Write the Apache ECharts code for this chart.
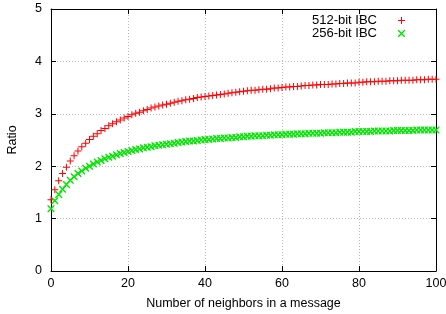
<!DOCTYPE html>
<html><head><meta charset="utf-8">
<script src="https://cdn.jsdelivr.net/npm/echarts@6/dist/echarts.min.js"></script>
<style>html,body{margin:0;padding:0;background:#fff}#c{width:446px;height:314px}</style>
</head><body><div id="c"></div>
<script>
const seriesNames = ['512-bit IBC', '256-bit IBC'];
const xTicks = [0, 20, 40, 60, 80, 100];
const yTicks = [0, 1, 2, 3, 4, 5];
const neighbors = [0,1,2,3,4,5,6,7,8,9,10,11,12,13,14,15,16,17,18,19,20,21,22,23,24,25,26,27,28,29,30,31,32,33,34,35,36,37,38,39,40,41,42,43,44,45,46,47,48,49,50,51,52,53,54,55,56,57,58,59,60,61,62,63,64,65,66,67,68,69,70,71,72,73,74,75,76,77,78,79,80,81,82,83,84,85,86,87,88,89,90,91,92,93,94,95,96,97,98,99,100];
const ratio512 = [1.36,1.55,1.72,1.86,1.98,2.10,2.20,2.29,2.37,2.44,2.51,2.57,2.62,2.68,2.72,2.77,2.81,2.85,2.88,2.92,2.95,2.98,3.01,3.03,3.06,3.08,3.11,3.13,3.15,3.17,3.18,3.20,3.22,3.24,3.25,3.27,3.28,3.29,3.31,3.32,3.33,3.34,3.35,3.36,3.37,3.38,3.39,3.40,3.41,3.42,3.43,3.44,3.45,3.45,3.46,3.47,3.47,3.48,3.49,3.49,3.50,3.51,3.51,3.52,3.52,3.53,3.54,3.54,3.55,3.55,3.56,3.56,3.56,3.57,3.57,3.58,3.58,3.59,3.59,3.59,3.60,3.60,3.61,3.61,3.61,3.62,3.62,3.62,3.63,3.63,3.63,3.64,3.64,3.64,3.64,3.65,3.65,3.65,3.66,3.66,3.66];
const ratio256 = [1.19,1.34,1.46,1.56,1.65,1.73,1.80,1.86,1.91,1.96,2.00,2.04,2.08,2.11,2.14,2.17,2.19,2.22,2.24,2.26,2.28,2.30,2.32,2.33,2.35,2.36,2.37,2.39,2.40,2.41,2.42,2.43,2.44,2.45,2.46,2.47,2.48,2.48,2.49,2.50,2.51,2.51,2.52,2.53,2.53,2.54,2.54,2.55,2.55,2.56,2.56,2.57,2.57,2.58,2.58,2.58,2.59,2.59,2.60,2.60,2.60,2.61,2.61,2.61,2.62,2.62,2.62,2.63,2.63,2.63,2.63,2.64,2.64,2.64,2.64,2.65,2.65,2.65,2.65,2.66,2.66,2.66,2.66,2.66,2.67,2.67,2.67,2.67,2.67,2.68,2.68,2.68,2.68,2.68,2.68,2.69,2.69,2.69,2.69,2.69,2.69];

const plusPath = 'path://M3,0 L4,0 L4,3 L7,3 L7,4 L4,4 L4,7 L3,7 L3,4 L0,4 L0,3 L3,3 Z';
const crossPath = 'path://M0,0 L1,0 L7,6 L7,7 L6,7 L0,1 Z M6,0 L7,0 L7,1 L1,7 L0,7 L0,6 Z';
const FONT = '"Liberation Sans", Arial, sans-serif';
const RED = '#ff0000', GREEN = '#00e600';

const chart = echarts.init(document.getElementById('c'), null, {renderer: 'canvas'});
const axisCommon = {
  axisLine: {show: true, onZero: false, lineStyle: {color: '#000', width: 1}},
  axisTick: {show: true, inside: true, length: 5, lineStyle: {color: '#000'}},
};
chart.setOption({
  animation: false,
  backgroundColor: '#fff',
  grid: {left: 51, right: 10, top: 9, bottom: 43, containLabel: false, outerBoundsMode: 'none'},
  legend: {
    orient: 'vertical', right: 41, top: 14, align: 'right', padding: 0,
    itemWidth: 7, itemHeight: 7, itemGap: 0,
    textStyle: {fontFamily: FONT, fontSize: 13, lineHeight: 13, color: '#000', padding: [0, 16, 0, 0]},
    data: [
      {name: seriesNames[0], icon: plusPath, itemStyle: {color: RED, borderWidth: 0}},
      {name: seriesNames[1], icon: crossPath, itemStyle: {color: GREEN, borderWidth: 0}}
    ]
  },
  xAxis: [
    Object.assign({
      type: 'value', min: 0, max: 100, interval: 20, position: 'bottom',
      name: 'Number of neighbors in a message', nameLocation: 'middle', nameGap: 26,
      nameTextStyle: {fontFamily: FONT, fontSize: 12.5, color: '#000'},
      axisLabel: {fontFamily: FONT, fontSize: 12.5, color: '#000', margin: 6,
        formatter: v => xTicks.includes(v) ? String(v) : ''},
      splitLine: {show: true, lineStyle: {color: '#b8b8b8', type: [1, 2], width: 1}}
    }, axisCommon),
    Object.assign({
      type: 'value', min: 0, max: 100, interval: 20, position: 'top',
      axisLabel: {show: false}, splitLine: {show: false}
    }, axisCommon)
  ],
  yAxis: [
    Object.assign({
      type: 'value', min: 0, max: 5, interval: 1, position: 'left',
      name: 'Ratio', nameLocation: 'middle', nameGap: 32, nameRotate: 90,
      nameTextStyle: {fontFamily: FONT, fontSize: 12.5, color: '#000'},
      axisLabel: {fontFamily: FONT, fontSize: 12.5, color: '#000', margin: 9,
        formatter: v => yTicks.includes(v) ? String(v) : ''},
      splitLine: {show: true, lineStyle: {color: '#b8b8b8', type: [1, 2], width: 1}}
    }, axisCommon),
    Object.assign({
      type: 'value', min: 0, max: 5, interval: 1, position: 'right',
      axisLabel: {show: false}, splitLine: {show: false}
    }, axisCommon)
  ],
  series: [
    {name: seriesNames[0], type: 'scatter', symbol: plusPath, symbolSize: 7,
     itemStyle: {color: RED, opacity: 1},
     data: neighbors.map((n, i) => [n, ratio512[i]])},
    {name: seriesNames[1], type: 'scatter', symbol: crossPath, symbolSize: 7,
     itemStyle: {color: GREEN, opacity: 1},
     data: neighbors.map((n, i) => [n, ratio256[i]])}
  ]
});
</script></body></html>
